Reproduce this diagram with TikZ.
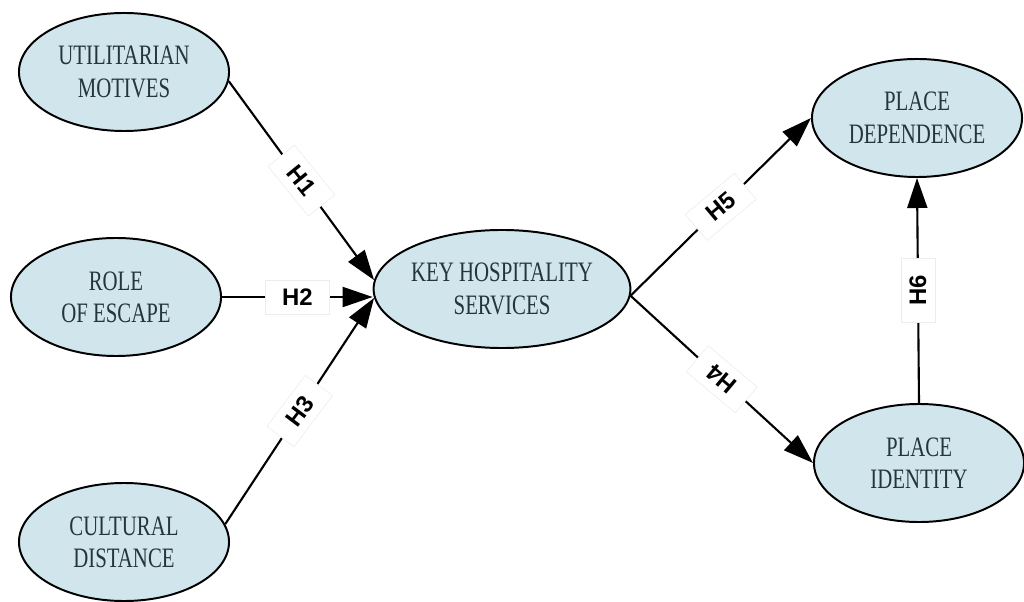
\documentclass[tikz,border=0pt]{standalone}
\usepackage{fontspec}
\usetikzlibrary{arrows.meta,shapes.geometric}
\newfontfamily\ellfont[FakeStretch=0.74]{Liberation Serif}
\newfontfamily\hypfont{Liberation Sans}
\definecolor{ellfill}{RGB}{208,230,236}
\definecolor{ink}{RGB}{34,54,60}
\tikzset{
  construct/.style={ellipse, draw=black, line width=1.4pt, fill=ellfill,
    minimum width=5.25cm, minimum height=2.95cm, inner sep=0pt, align=center,
    text=ink, font=\ellfont\fontsize{20}{23}\selectfont},
  hpath/.style={black, line width=1.5pt, -{Triangle[length=7.5mm,width=5mm]}},
  hyp/.style={fill=white, draw=gray!15, line width=0.4pt, inner sep=1pt,
    minimum width=1.6cm, minimum height=0.85cm,
    font=\hypfont\bfseries\fontsize{17}{19}\selectfont}
}
\begin{document}
\begin{tikzpicture}[x=0.025cm, y=-0.025cm]
        \useasboundingbox (0,0) rectangle (1024,602);
        \node[construct] (um)  at (124,72)  {UTILITARIAN\\MOTIVES};
        \node[construct] (roe) at (116,297) {ROLE\\OF ESCAPE};
        \node[construct] (cd)  at (124,542) {CULTURAL\\DISTANCE};
        \node[construct] (khs) at (502,289) {KEY HOSPITALITY\\SERVICES};
        \node[construct] (pd)  at (917,118) {PLACE\\DEPENDENCE};
        \node[construct] (pi)  at (919,463) {PLACE\\IDENTITY};
        \draw[hpath] (um.-5) -- node[hyp, rotate=-51] {H1} (khs.176);
        \draw[hpath] (roe.east) -- node[hyp] {H2} (khs.west |- roe.east);
        \draw[hpath] (cd.10) -- node[hyp, rotate=53] {H3} (khs.184);
        \draw[hpath] (khs.-3) -- node[hyp, rotate=140] {H4} (pi.west);
        \draw[hpath] (khs.-3) -- node[hyp, rotate=40] {H5} (pd.west);
        \draw[hpath] (pi.north) -- node[hyp, rotate=90] {H6} (pd.south);
    \end{tikzpicture}
\end{document}
